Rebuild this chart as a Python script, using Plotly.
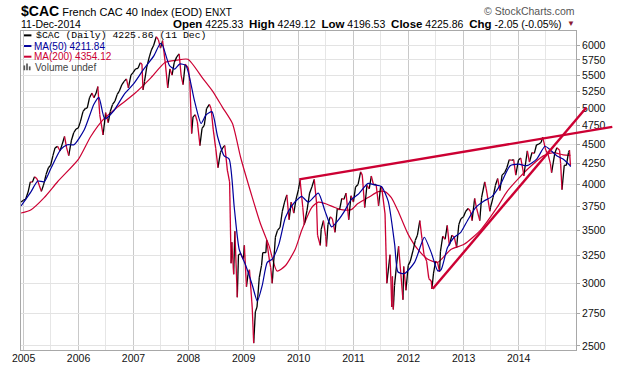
import math
import pandas as pd
import plotly.graph_objects as go

# ---------------- data ----------------
price_dates = [
 "2004-12-15","2004-12-31","2005-01-14","2005-01-31","2005-02-15","2005-02-28","2005-03-15","2005-03-31",
 "2005-04-15","2005-04-29","2005-05-13","2005-05-31","2005-06-15","2005-06-30","2005-07-15","2005-07-29",
 "2005-08-15","2005-08-31","2005-09-15","2005-09-30","2005-10-14","2005-10-28","2005-11-15","2005-11-30",
 "2005-12-15","2005-12-30","2006-01-13","2006-01-31","2006-02-15","2006-02-28","2006-03-15","2006-03-31",
 "2006-04-13","2006-04-28","2006-05-09","2006-05-22","2006-06-13","2006-06-30","2006-07-17","2006-07-31",
 "2006-08-15","2006-08-31","2006-09-15","2006-09-29","2006-10-16","2006-10-31","2006-11-15","2006-11-28",
 "2006-12-15","2006-12-29","2007-01-15","2007-01-31","2007-02-15","2007-02-26","2007-03-05","2007-03-15",
 "2007-03-30","2007-04-16","2007-04-30","2007-05-15","2007-06-01","2007-06-15","2007-06-29","2007-07-13",
 "2007-07-31","2007-08-16","2007-08-31","2007-09-14","2007-09-28","2007-10-15","2007-10-31","2007-11-13",
 "2007-11-26","2007-12-10","2007-12-31","2008-01-10","2008-01-22","2008-01-31","2008-02-15","2008-02-29",
 "2008-03-17","2008-03-31","2008-04-15","2008-04-30","2008-05-19","2008-05-30","2008-06-13","2008-06-30",
 "2008-07-15","2008-07-31","2008-08-15","2008-08-29","2008-09-15","2008-09-30","2008-10-10","2008-10-15",
 "2008-10-27","2008-11-04","2008-11-20","2008-11-28","2008-12-12","2008-12-31","2009-01-06","2009-01-20",
 "2009-01-30","2009-02-09","2009-02-27","2009-03-09","2009-03-20","2009-03-31","2009-04-15","2009-04-30",
 "2009-05-08","2009-05-29","2009-06-03","2009-06-22","2009-06-30","2009-07-10","2009-07-31","2009-08-14",
 "2009-08-31","2009-09-15","2009-09-30","2009-10-15","2009-10-30","2009-11-13","2009-11-30","2009-12-15",
 "2009-12-31","2010-01-11","2010-01-29","2010-02-08","2010-02-26","2010-03-15","2010-03-31","2010-04-15",
 "2010-04-30","2010-05-07","2010-05-25","2010-05-31","2010-06-15","2010-06-30","2010-07-05","2010-07-15",
 "2010-07-30","2010-08-13","2010-08-31","2010-09-15","2010-09-30","2010-10-15","2010-10-29","2010-11-12",
 "2010-11-30","2010-12-15","2010-12-31","2011-01-14","2011-01-31","2011-02-17","2011-02-28","2011-03-16",
 "2011-03-31","2011-04-15","2011-04-29","2011-05-13","2011-05-31","2011-06-16","2011-06-30","2011-07-08",
 "2011-07-29","2011-08-10","2011-08-31","2011-09-12","2011-09-16","2011-09-22","2011-09-30","2011-10-14",
 "2011-10-27","2011-11-10","2011-11-25","2011-11-30","2011-12-15","2011-12-30","2012-01-13","2012-01-31",
 "2012-02-15","2012-02-29","2012-03-16","2012-03-30","2012-04-13","2012-04-30","2012-05-15","2012-05-31",
 "2012-06-04","2012-06-15","2012-06-29","2012-07-13","2012-07-25","2012-07-31","2012-08-15","2012-08-31",
 "2012-09-14","2012-09-28","2012-10-15","2012-10-31","2012-11-15","2012-11-30","2012-12-14","2012-12-31",
 "2013-01-15","2013-01-31","2013-02-15","2013-02-26","2013-03-15","2013-03-28","2013-04-18","2013-04-30",
 "2013-05-21","2013-05-31","2013-06-24","2013-06-28","2013-07-15","2013-07-31","2013-08-15","2013-08-30",
 "2013-09-13","2013-09-30","2013-10-15","2013-10-31","2013-11-15","2013-11-29","2013-12-13","2013-12-31",
 "2014-01-15","2014-01-31","2014-02-04","2014-02-28","2014-03-14","2014-03-31","2014-04-15","2014-04-30",
 "2014-05-15","2014-05-30","2014-06-10","2014-06-30","2014-07-15","2014-07-31","2014-08-08","2014-08-29",
 "2014-09-12","2014-09-30","2014-10-07","2014-10-16","2014-10-31","2014-11-14","2014-11-28","2014-12-05",
 "2014-12-11",
]
price_vals = [
 3800,3821,3830,3913,4030,4027,4090,4067,
 3990,3920,3990,4120,4200,4230,4350,4450,
 4470,4410,4500,4600,4450,4350,4550,4650,
 4700,4715,4800,4950,4990,5000,5150,5220,
 5150,5220,5320,4900,4620,4930,4790,4950,
 5050,5100,5200,5250,5350,5400,5440,5300,
 5500,5540,5600,5610,5700,5680,5270,5400,
 5630,5800,5920,6000,6150,6100,5950,6080,
 5700,5300,5600,5500,5700,5800,5850,5500,
 5350,5680,5615,5400,4640,4870,4900,4800,
 4480,4710,4750,4990,5050,4990,4700,4440,
 4200,4390,4450,4480,4170,4030,3180,3380,
 3080,3490,2880,3260,3270,3218,3350,2970,
 3080,3120,2800,2520,2760,2800,3050,3160,
 3280,3280,3400,3200,3140,3000,3430,3500,
 3530,3700,3800,3880,3610,3800,3680,3830,
 3940,4050,3740,3560,3710,3900,3974,4060,
 3800,3450,3350,3510,3600,3440,3340,3560,
 3640,3620,3480,3730,3715,3840,3830,3900,
 3610,3870,3800,3970,4000,4150,4110,3740,
 3990,3950,4100,4000,4000,3760,3980,3950,
 3670,3000,3260,2800,3060,2780,2980,3170,
 3340,3100,2860,3150,2940,3160,3200,3300,
 3400,3450,3600,3420,3260,3200,3040,3020,
 2950,3090,3200,3180,3100,3290,3440,3410,
 3550,3350,3450,3430,3330,3560,3620,3640,
 3700,3730,3700,3600,3840,3730,3600,3850,
 4030,3950,3700,3740,3850,3990,4070,3930,
 4110,4140,4200,4300,4290,4300,4110,4295,
 4320,4160,4100,4410,4270,4390,4380,4490,
 4500,4520,4590,4420,4370,4250,4140,4380,
 4450,4420,4250,3940,4230,4230,4390,4420,
 4225.86,
]

ma50_dates = [
 "2004-12-15","2005-02-20","2005-04-05","2005-05-18","2005-07-01","2005-09-05","2005-10-19","2005-12-02",
 "2006-02-08","2006-04-13","2006-05-16","2006-06-24","2006-08-23","2006-10-30","2007-01-01","2007-03-10",
 "2007-05-16","2007-06-28","2007-07-13","2007-08-28","2007-10-01","2007-11-03","2007-12-15","2008-02-10",
 "2008-03-25","2008-04-27","2008-06-05","2008-07-12","2008-08-25","2008-09-27","2008-10-31","2008-12-03",
 "2009-01-16","2009-02-28","2009-04-02","2009-05-05","2009-06-07","2009-07-10","2009-08-23","2009-10-05",
 "2009-11-18","2010-01-08","2010-01-22","2010-03-07","2010-05-12","2010-06-25","2010-08-08","2010-09-20",
 "2010-11-03","2010-12-16","2011-01-30","2011-04-08","2011-05-19","2011-07-05","2011-08-19","2011-10-01",
 "2011-10-23","2011-12-05","2012-02-10","2012-03-25","2012-04-15","2012-05-31","2012-07-13","2012-08-04",
 "2012-09-16","2012-10-30","2012-12-13","2013-01-27","2013-03-23","2013-05-16","2013-07-09","2013-09-01",
 "2013-11-06","2014-01-01","2014-02-24","2014-05-01","2014-06-25","2014-07-27","2014-09-13","2014-10-23",
 "2014-12-09","2014-12-11",
]
ma50_vals = [
 3757,3918,4040,4032,4190,4430,4491,4491,
 4690,5052,5156,4842,4958,5197,5360,5598,
 5817,6030,6000,5655,5598,5680,5655,5102,
 4777,4900,4945,4600,4347,4307,3741,3310,
 3157,2983,2848,2983,3188,3218,3360,3630,
 3760,3850,3864,3800,3901,3704,3535,3602,
 3704,3827,3884,4012,3995,3977,3811,3360,
 3100,3086,3188,3360,3430,3280,3110,3120,
 3330,3430,3480,3602,3741,3811,3864,3995,
 4225,4245,4225,4307,4471,4430,4347,4307,
 4225,4211.84,
]

ma200_dates = [
 "2004-12-15","2005-02-20","2005-05-18","2005-08-15","2006-01-01","2006-03-23","2006-06-18","2006-09-13",
 "2007-01-01","2007-04-23","2007-07-31","2007-10-15","2007-12-28","2008-04-05","2008-06-10","2008-08-15",
 "2008-10-19","2008-12-12","2009-02-28","2009-04-23","2009-06-18","2009-08-11","2009-10-05","2009-12-09",
 "2010-01-22","2010-03-29","2010-05-12","2010-06-25","2010-08-29","2010-10-12","2010-12-16","2011-01-30",
 "2011-04-08","2011-06-14","2011-07-27","2011-09-09","2011-10-23","2011-12-28","2012-03-03","2012-05-08",
 "2012-07-13","2012-10-08","2013-01-04","2013-04-23","2013-08-11","2013-10-16","2014-01-01","2014-03-17",
 "2014-06-14","2014-08-19","2014-10-23","2014-12-11",
]
ma200_vals = [
 3681,3717,3850,4032,4307,4600,4842,5004,
 5197,5448,5709,5745,5760,5448,5246,5004,
 4777,4330,3850,3568,3350,3109,3157,3310,
 3500,3740,3800,3784,3741,3717,3717,3784,
 3850,3918,3918,3850,3704,3464,3310,3218,
 3188,3310,3360,3502,3741,3918,4071,4209,
 4347,4388,4360,4354.12,
]

# hand-drawn trend lines (start / end points)
resist_dates = ["2010-01-05", "2015-09-15"]
resist_vals = [4060, 4730]
support_dates = ["2012-06-10", "2015-03-27"]
support_vals = [2952, 5004]

ytick_vals = [2500, 2750, 3000, 3250, 3500, 3750, 4000, 4250, 4500, 4750, 5000, 5250, 5500, 5750, 6000]
year_labels = ["2005", "2006", "2007", "2008", "2009", "2010", "2011", "2012", "2013", "2014"]

# ---------------- styling / geometry ----------------
W, H = 620, 376
PL, PR, PT, PB = 17, 576, 31, 360
X0 = pd.Timestamp("2004-12-15")
X1 = pd.Timestamp("2015-01-17")
YLO, YHI = 2470, 6254

BLACK = "#000000"
RED = "#CC0033"
NAVY = "#00009C"

def px_x(X):
    return (X - PL) / (PR - PL)

def px_y(Y):
    return (PB - Y) / (PB - PT)

def date_frac(d):
    return (pd.Timestamp(d) - X0) / (X1 - X0)

# up / down coloured price segments
up_x, up_y, dn_x, dn_y = [], [], [], []
for i in range(1, len(price_vals)):
    if price_vals[i] >= price_vals[i - 1]:
        up_x += [price_dates[i - 1], price_dates[i], None]
        up_y += [price_vals[i - 1], price_vals[i], None]
    else:
        dn_x += [price_dates[i - 1], price_dates[i], None]
        dn_y += [price_vals[i - 1], price_vals[i], None]

fig = go.Figure()
fig.add_trace(go.Scatter(x=ma200_dates, y=ma200_vals, mode="lines",
                         line=dict(color=RED, width=1.2, shape="spline", smoothing=0.6),
                         hoverinfo="skip", showlegend=False))
fig.add_trace(go.Scatter(x=up_x, y=up_y, mode="lines", line=dict(color=BLACK, width=1.3),
                         hoverinfo="skip", showlegend=False))
fig.add_trace(go.Scatter(x=dn_x, y=dn_y, mode="lines", line=dict(color=RED, width=1.3),
                         hoverinfo="skip", showlegend=False))
fig.add_trace(go.Scatter(x=ma50_dates, y=ma50_vals, mode="lines",
                         line=dict(color=NAVY, width=1.2, shape="spline", smoothing=0.6),
                         hoverinfo="skip", showlegend=False))

shapes = []
for ds, vs in ((resist_dates, resist_vals), (support_dates, support_vals)):
    shapes.append(dict(type="line", xref="paper", yref="y",
                       x0=date_frac(ds[0]), x1=date_frac(ds[1]), y0=vs[0], y1=vs[1],
                       line=dict(color=RED, width=2.4), layer="above"))

# legend swatches
for Y, col in ((35.5, BLACK), (46.5, NAVY), (57.5, RED)):
    shapes.append(dict(type="line", xref="paper", yref="paper",
                       x0=px_x(20), x1=px_x(27.5), y0=px_y(Y), y1=px_y(Y),
                       line=dict(color=col, width=2)))
for bx0, bx1, by0 in ((19.5, 21.2, 66.5), (22.2, 23.9, 64.5), (24.9, 26.6, 67.5)):
    shapes.append(dict(type="rect", xref="paper", yref="paper",
                       x0=px_x(bx0), x1=px_x(bx1), y0=px_y(71.5), y1=px_y(by0),
                       fillcolor="#555555", line=dict(width=0)))

SANS = "Liberation Sans, Arial, sans-serif"
MONO = "Liberation Mono, DejaVu Sans Mono, monospace"

def ann(text, X, Y, size, color=BLACK, family=SANS, xanchor="left"):
    return dict(text=text, x=px_x(X), y=px_y(Y), xref="paper", yref="paper",
                xanchor=xanchor, yanchor="middle", showarrow=False,
                font=dict(size=size, color=color, family=family))

annotations = [
    ann("<span style='font-size:14px'><b>$CAC</b></span> French CAC 40 Index (EOD) "
        "<span style='font-size:10px'>ENXT</span>", 15, 10.5, 11),
    ann("11-Dec-2014", 15, 23.5, 10.5),
    ann("<span style='font-size:11.5px'><b>Open</b></span> 4225.33  "
        "<span style='font-size:11.5px'><b>High</b></span> 4249.12  "
        "<span style='font-size:11.5px'><b>Low</b></span> 4196.53  "
        "<span style='font-size:11.5px'><b>Close</b></span> 4225.86  "
        "<span style='font-size:11.5px'><b>Chg</b></span> -2.05 (-0.05%)", 564, 23.5, 10.5,
        xanchor="right"),
    ann("▼", 565, 23, 8, color="#8B1A33"),
    ann("© StockCharts.com", 577, 10, 10.5, color="#555555", xanchor="right"),
    ann("$CAC (Daily) 4225.86 (11 Dec)", 30, 35.5, 9.8, family=MONO),
    ann("MA(50) 4211.84", 28.5, 46.5, 10, color=NAVY),
    ann("MA(200) 4354.12", 28.5, 57.5, 10, color=RED),
    ann("Volume undef", 29, 68.5, 10, color="#444444"),
]

fig.update_layout(
    width=W, height=H,
    margin=dict(l=PL, r=W - PR, t=PT, b=H - PB, pad=0),
    paper_bgcolor="white", plot_bgcolor="white",
    showlegend=False,
    shapes=shapes,
    annotations=annotations,
    xaxis=dict(
        type="date", range=[X0, X1],
        tickmode="array",
        tickvals=[f"{y}-01-01" for y in year_labels],
        ticktext=year_labels,
        tickfont=dict(size=10.5, family=SANS, color="#111111"),
        ticklabelstandoff=-2,
        showgrid=True, gridcolor="#C9C9C9", gridwidth=1,
        minor=dict(tickmode="array", tickvals=[f"{y}-07-01" for y in year_labels],
                   showgrid=True, gridcolor="#E6E6E6", gridwidth=1),
        showline=True, linecolor="#A8A8A8", linewidth=1, mirror=True,
        ticks="", zeroline=False, fixedrange=True,
    ),
    yaxis=dict(
        type="log", side="right",
        range=[math.log10(YLO), math.log10(YHI)],
        tickmode="array", tickvals=ytick_vals, ticktext=[str(v) for v in ytick_vals],
        tickfont=dict(size=10.5, family=SANS, color="#111111"),
        showgrid=True, gridcolor="#E3E3E3", gridwidth=1,
        showline=True, linecolor="#A8A8A8", linewidth=1, mirror=True,
        ticks="outside", ticklen=3, tickcolor="#A8A8A8",
        zeroline=False, fixedrange=True,
    ),
)

fig.write_html("out.html",
               config={"displayModeBar": False, "staticPlot": True},
               post_script="document.body.style.margin='0';document.body.style.overflow='hidden';")
